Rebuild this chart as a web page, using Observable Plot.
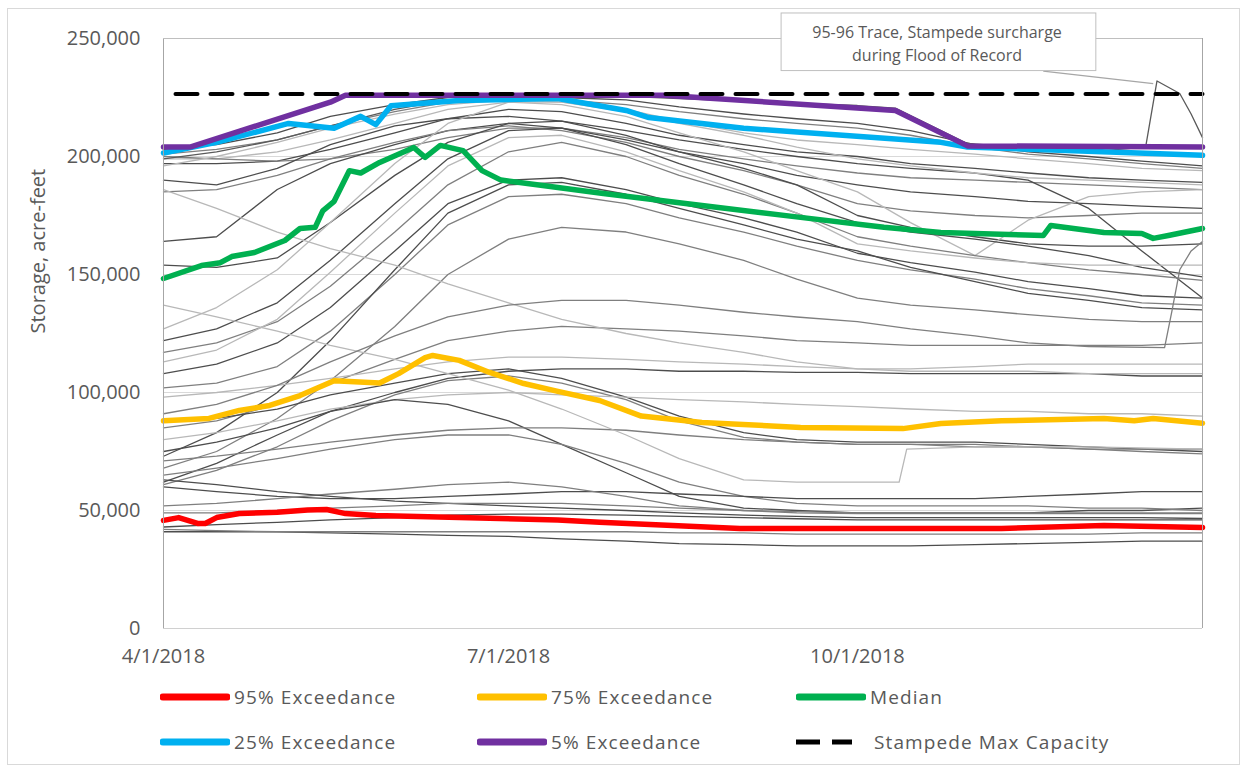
<!DOCTYPE html>
<html>
<head>
<meta charset="utf-8">
<script src="https://cdn.jsdelivr.net/npm/d3@7"></script>
<script src="https://cdn.jsdelivr.net/npm/@observablehq/plot@0.6"></script>
<style>
  body { margin: 0; background: #fff; font-family: "Open Sans", sans-serif; }
  #chart { position: absolute; left: 0; top: 0; }
  #outer { position: absolute; left: 7px; top: 8px; width: 1233px; height: 757px; border: 1px solid #d9d9d9; box-sizing: border-box; pointer-events: none; }
  .leg { position: absolute; display: flex; align-items: center; height: 24px; font-size: 19px; letter-spacing: 1.1px; color: #595959; white-space: nowrap; }
  .leg svg { margin-right: 4px; }
</style>
</head>
<body>
<div id="chart"></div>
<div id="outer"></div>
<div id="legend"></div>
<script>
// ---------- DATA (storage in thousand acre-feet) ----------
const gridDates = ["2018-04-01","2018-04-15","2018-05-01","2018-05-15","2018-06-01","2018-06-15","2018-07-01","2018-07-15","2018-08-01","2018-08-15","2018-09-01","2018-09-15","2018-10-01","2018-10-15","2018-11-01","2018-11-15","2018-12-01","2018-12-15","2018-12-31"];

const trace01 = [203,205,210,217,222,225,226,225,224,221,218,216,214,211,205,202,200,198,196];
const trace02 = [201,203,207,213,219,223,225,224,222,219,216,214,212,209,204,201,199,197,195];
const trace03 = [199,199,202,207,214,220,223,223,220,215,210,207,205,203,201,199,197,195,194];
const trace04 = [197,197,198,203,210,216,220,219,214,209,205,202,200,197,195,193,191,190,189];
const trace05 = [200,199,198,199,203,208,212,212,208,203,199,196,193,191,190,189,188,187,186];
const trace06 = [190,188,195,205,213,216,217,215,211,207,203,200,197,195,193,190,178,160,140];
const trace07 = [164,166,186,197,205,211,214,212,207,202,197,192,188,185,183,181,180,179,178];
const trace08 = [185,186,192,199,206,211,213,211,206,200,194,188,180,177,175,174,175,176,176];
const trace09 = [154,153,157,172,192,206,214,215,209,202,195,188,175,170,166,163,162,162,163];
const trace10 = [127,136,152,172,197,214,223,222,217,210,202,194,185,172,158,173,183,185,186];
const trace11 = [122,127,138,156,180,199,211,212,205,197,188,180,172,168,165,162,158,153,149];
const trace12 = [117,121,130,145,168,188,202,206,200,192,184,176,166,162,158,155,152,150,147.5];
const trace13 = [113,118,131,151,176,196,208,209,202,194,185,176,163,160,157,155,154,154,154];
const trace14 = [108,112,121,136,160,180,190,191,186,180,174,168,159,155,151,147,144,141,140];
const trace15 = [102,104,111,126,150,171,183,184,180,174,168,162,156,152,148,144,141,138,137];
const trace16 = [73,83,100,122,152,176,188,189,184,178,171,165,160,153,147,142,139,136,135];
const trace17 = [68,75,89,105,128,150,165,170,168,163,156,148,140,137,135,133,131,130,130];
const trace19 = [85,88,95,104,114,122,126,128,127,126,124,122,121,120,120,120,120,120,121];
const trace20 = [98,100,103,106,110,113,115,115,114,113,112,111,110,110,111,112,112,112,112];
const trace21 = [75,79,85,92,100,106,109,110,110,109,109,108.5,108.5,108,108,108,108,107,107];
const trace22 = [186,178,168,161,154,146,138,131,125,121,117,113,110,109,109,109,108,108,108];
const trace23 = [88,89,93,99,104,108,110,106,98,90,83,80,79,79,79,78,77,76,75];
const trace24 = [61,67,77,88,99,105,107,104,97,88,81,79,78,78,78,77,76,75,74];
const trace25 = [80,83,88,93,97,99,100,99,98,97,96,95,94,93,92,92,91,91,90];
const trace26 = [62,70,82,92,97,95,88,78,66,56,51,50,49,49,49,49,50,50,51];
const trace27 = [71,73,76,79,82,84,85,85,84,82,80,79,78,78,77,77,76,76,76];
const trace29 = [65,68,72,76,80,82,82,78,70,62,56,53,52,52,52,52,51,51,50];
const trace30 = [60,58,56,55,55,56,57,58,58,57,56,55,55,55,55,56,57,58,58];
const trace31 = [52,53,55,57,59,61,62,60,56,52,50,49,48.7,48.7,48.7,48.7,48.7,48.7,48.7];
const trace32 = [63,61,58,56,54,53,52,51,50,49,48,47.5,47,47,47,47,47,47,46.6];
const trace33 = [49,49,50,51,52,53,53,53,52,51,50,49.5,49,49,49,49,49,49,49];
const trace34 = [43,44,45,46,47,48,48.5,48.5,48,47.5,47,46.5,46,46,46,46,46,46,46];
const trace35 = [41,41,41,40.5,40,39.5,39,38,37,36,35.5,35,35,35,35.5,36,36.5,37,37];
const trace36 = [42,41.5,41,41,41,41,41,41,41,40.5,40.5,40,40,40,40,40,40,40.5,40.5];
const trace37 = [196,200,206,212,218,222,224,223,219,214,209,204,199,196,193,191,190,189,188];

const gridTraces = [trace01,trace02,trace03,trace04,trace05,trace06,trace07,trace08,trace09,trace10,trace11,trace12,trace13,trace14,trace15,trace16,trace17,trace19,trace20,trace21,trace22,trace23,trace24,trace25,trace26,trace27,trace29,trace30,trace31,trace32,trace33,trace34,trace35,trace36,trace37];
const gridTones  = ["dark","mid","light","dark","mid","dark","dark","mid","dark","light","dark","mid","light","dark","mid","dark","mid","mid","light","dark","light","dark","mid","light","dark","mid","mid","dark","mid","dark","mid","dark","dark","mid","light"];

// 95-96 trace (Stampede surcharge during flood of record)
const trace9596Dates  = ["2018-04-01","2018-04-15","2018-05-01","2018-05-15","2018-06-01","2018-06-15","2018-07-01","2018-07-15","2018-08-01","2018-08-15","2018-09-01","2018-09-15","2018-10-01","2018-10-11","2018-10-30","2018-11-15","2018-12-01","2018-12-16","2018-12-19","2018-12-25","2018-12-28","2018-12-31"];
const trace9596Values = [199,202,207,213,220,224,226,226,225.5,224.5,223.5,222.5,221.6,220.5,205.5,203.5,202,204,232,226.7,218,208];

// trace with sharp rise at end of December
const traceSpikeDates  = ["2018-04-01","2018-04-15","2018-05-01","2018-05-15","2018-06-01","2018-06-15","2018-07-01","2018-07-15","2018-08-01","2018-08-15","2018-09-01","2018-09-15","2018-10-01","2018-10-15","2018-11-01","2018-11-15","2018-12-01","2018-12-21","2018-12-23","2018-12-25","2018-12-28","2018-12-31"];
const traceSpikeValues = [91,95,103,113,124,132,137,139,139,137,134,132,130,127,124,121,119.5,119,135,152,160,164];

// light trace with jump in mid-October
const traceJumpDates  = ["2018-04-01","2018-04-15","2018-05-01","2018-05-15","2018-06-01","2018-06-15","2018-07-01","2018-07-15","2018-08-01","2018-08-15","2018-09-01","2018-09-15","2018-10-01","2018-10-12","2018-10-14","2018-11-01","2018-12-01","2018-12-31"];
const traceJumpValues = [137,132,126,120,114,108,101,93,82,72,63,62,62,62,76,77,77,76];

// exceedance series
const p95Dates  = ["2018-04-01","2018-04-05","2018-04-10","2018-04-12","2018-04-15","2018-04-21","2018-05-01","2018-05-09","2018-05-14","2018-05-19","2018-05-27","2018-06-18","2018-07-14","2018-07-25","2018-08-31","2018-10-13","2018-11-08","2018-12-05","2018-12-31"];
const p95Values = [45.8,47,44.5,44.5,47,48.7,49.3,50.2,50.4,48.7,47.9,47,46,45,42.4,42.4,42.4,43.6,42.8];

const p75Dates  = ["2018-04-01","2018-04-13","2018-04-21","2018-04-29","2018-05-07","2018-05-16","2018-05-28","2018-06-02","2018-06-09","2018-06-11","2018-06-18","2018-06-26","2018-07-05","2018-07-14","2018-07-25","2018-08-05","2018-08-21","2018-09-16","2018-10-13","2018-10-23","2018-11-08","2018-12-05","2018-12-13","2018-12-18","2018-12-31"];
const p75Values = [88,89,92.4,94.5,98.7,105,104,108,114.8,115.7,113.6,108.5,103.8,100.5,96.6,90,87.3,85.2,84.7,86.9,88,89,88,89,87];

const medianDates  = ["2018-04-01","2018-04-11","2018-04-16","2018-04-19","2018-04-25","2018-05-03","2018-05-07","2018-05-11","2018-05-13","2018-05-16","2018-05-20","2018-05-23","2018-05-28","2018-06-06","2018-06-09","2018-06-13","2018-06-19","2018-06-24","2018-06-29","2018-07-10","2018-07-26","2018-08-21","2018-09-16","2018-10-08","2018-10-23","2018-11-19","2018-11-21","2018-12-05","2018-12-15","2018-12-18","2018-12-22","2018-12-31"];
const medianValues = [148.3,153.8,155,157.6,159.3,164.4,169.5,170,177,181,194,193,197.5,203.8,199.6,204.7,202.5,194,190,187.7,184.3,179.2,174.2,170,167.8,166.5,170.8,167.8,167.4,165.3,166.5,169.5];

const p25Dates  = ["2018-04-01","2018-04-15","2018-05-04","2018-05-16","2018-05-23","2018-05-27","2018-05-31","2018-06-18","2018-07-14","2018-08-01","2018-08-07","2018-09-01","2018-10-23","2018-10-30","2018-12-31"];
const p25Values = [201.5,206,214,212,217,213.5,221.5,223.7,224.6,219.5,216.5,212,206,204,200.5];

const p5Dates  = ["2018-04-01","2018-04-08","2018-05-15","2018-05-19","2018-08-11","2018-10-11","2018-10-30","2018-12-31"];
const p5Values = [204,204,223,226,226,219.5,204.5,204];

const capacityDates  = ["2018-04-01","2018-12-31"];
const capacityValues = [226.5,226.5];

const xTickDates = ["2018-04-01","2018-07-01","2018-10-01"];
const yTicks = [0, 50000, 100000, 150000, 200000, 250000];

const annotationLines = ["95-96 Trace, Stampede surcharge", "during Flood of Record"];

// ---------- BUILD ----------
const toDate = s => new Date(s + "T00:00:00Z");
const rows = (dates, values) => dates.map((d, i) => ({date: toDate(d), value: values[i] * 1000}));
const toneColor = {dark: "#4d4d4d", mid: "#7f7f7f", light: "#b8b8b8"};

const grayMarks = gridTraces.map((t, i) =>
  Plot.line(rows(gridDates, t), {x: "date", y: "value", stroke: toneColor[gridTones[i]], strokeWidth: 1.3}));
grayMarks.push(Plot.line(rows(traceJumpDates, traceJumpValues), {x: "date", y: "value", stroke: toneColor.light, strokeWidth: 1.3}));
grayMarks.push(Plot.line(rows(traceSpikeDates, traceSpikeValues), {x: "date", y: "value", stroke: toneColor.mid, strokeWidth: 1.3}));
grayMarks.push(Plot.line(rows(trace9596Dates, trace9596Values), {x: "date", y: "value", stroke: "#5a5a5a", strokeWidth: 1.3}));

const series = [
  {label: "95% Exceedance", dates: p95Dates, values: p95Values, color: "#ff0000"},
  {label: "75% Exceedance", dates: p75Dates, values: p75Values, color: "#ffc000"},
  {label: "Median", dates: medianDates, values: medianValues, color: "#00b050"},
  {label: "25% Exceedance", dates: p25Dates, values: p25Values, color: "#00b0f0"},
  {label: "5% Exceedance", dates: p5Dates, values: p5Values, color: "#7030a0"}
];
const seriesMarks = series.map(s =>
  Plot.line(rows(s.dates, s.values), {x: "date", y: "value", stroke: s.color, strokeWidth: 5.5, strokeLinejoin: "round"}));

// annotation box anchors (data space)
const annBox = [{x1: toDate("2018-09-11"), x2: toDate("2018-12-03"), y1: 236200, y2: 260600}];
const annCenter = [{x: toDate("2018-10-22"), y: 248400}];
const annLink = [{x1: toDate("2018-11-19"), y1: 236200, x2: toDate("2018-12-18"), y2: 230900}];

const chart = Plot.plot({
  width: 1249, height: 672,
  marginLeft: 163, marginRight: 47, marginTop: 38, marginBottom: 44,
  style: {fontFamily: "'Open Sans', sans-serif", fontSize: "20px", color: "#595959", background: "transparent", overflow: "visible"},
  x: {type: "utc", domain: [toDate("2018-04-01"), toDate("2018-12-31")], ticks: xTickDates.map(toDate),
      tickFormat: d3.utcFormat("%-m/%-d/%Y"), tickSize: 0, tickPadding: 20, label: null},
  y: {domain: [0, 250000], ticks: yTicks, tickFormat: d3.format(","), tickSize: 0, tickPadding: 23, label: null},
  marks: [
    Plot.gridY(yTicks, {stroke: "#d9d9d9", strokeOpacity: 1}),
    ...grayMarks,
    ...seriesMarks,
    Plot.line(rows(capacityDates, capacityValues), {x: "date", y: "value", stroke: "#000", strokeWidth: 4, strokeDasharray: "22,13", strokeDashoffset: 23}),
    Plot.ruleY([0], {stroke: "#d0d0d0"}),
    Plot.ruleX([toDate("2018-04-01"), toDate("2018-12-31")], {stroke: "#a6a6a6"}),
    Plot.ruleY([250000], {stroke: "#bfbfbf"}),
    Plot.link(annLink, {x1: "x1", y1: "y1", x2: "x2", y2: "y2", stroke: "#a6a6a6", strokeWidth: 1.2}),
    Plot.rect(annBox, {x1: "x1", x2: "x2", y1: "y1", y2: "y2", fill: "#fff", stroke: "#bfbfbf"}),
    Plot.text(annCenter, {x: "x", y: "y", text: () => annotationLines.join("\n"), fontSize: 16, lineHeight: 1.45, fill: "#595959"}),
    Plot.text(["Storage, acre-feet"], {frameAnchor: "left", dx: -125, rotate: -90, fontSize: 20, fill: "#595959"})
  ]
});
document.getElementById("chart").appendChild(chart);

// ---------- LEGEND ----------
const legendItems = [
  {label: series[0].label, color: series[0].color, left: 160, top: 697},
  {label: series[1].label, color: series[1].color, left: 477, top: 697},
  {label: series[2].label, color: series[2].color, left: 796, top: 697},
  {label: series[3].label, color: series[3].color, left: 160, top: 742},
  {label: series[4].label, color: series[4].color, left: 477, top: 742},
  {label: "Stampede Max Capacity", color: "#000", left: 796, top: 742, dashed: true}
];
const legend = document.getElementById("legend");
for (const it of legendItems) {
  const div = document.createElement("div");
  div.className = "leg";
  div.style.left = it.left + "px";
  div.style.top = (it.top - 12) + "px";
  const sw = it.dashed
    ? `<svg width="74" height="10"><line x1="0" y1="5" x2="56" y2="5" stroke="#000" stroke-width="5" stroke-dasharray="24,12"/></svg>`
    : `<svg width="70" height="10"><line x1="3" y1="5" x2="67" y2="5" stroke="${it.color}" stroke-width="7" stroke-linecap="round"/></svg>`;
  div.innerHTML = sw + `<span>${it.label}</span>`;
  legend.appendChild(div);
}
</script>
</body>
</html>
